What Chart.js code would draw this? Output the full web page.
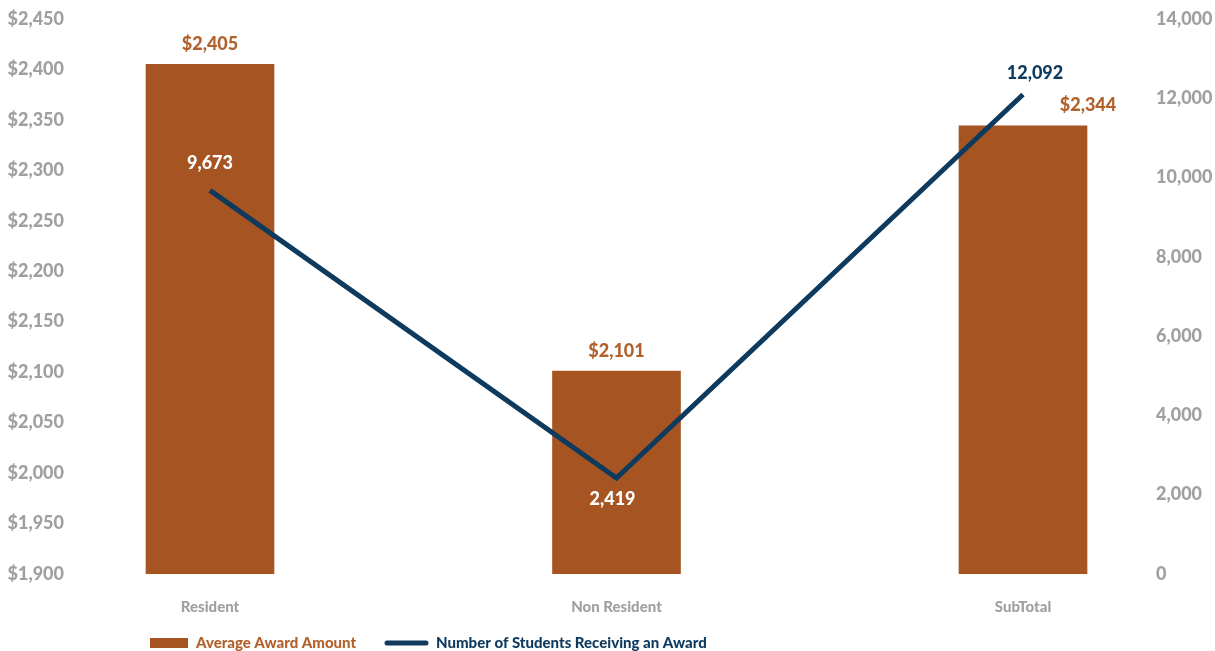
<!DOCTYPE html>
<html>
<head>
<meta charset="utf-8">
<script src="https://cdn.jsdelivr.net/npm/chart.js@4/dist/chart.umd.min.js"></script>
<style>
  html, body { margin: 0; padding: 0; background: #fff; }
  #wrap { width: 1215px; height: 651px; }
</style>
</head>
<body>
<div id="wrap"><canvas id="awardChart"></canvas></div>
<script>
const categories = ['Resident', 'Non Resident', 'SubTotal'];
const avgAward = [2405, 2101, 2344];
const students = [9673, 2419, 12092];
const seriesNames = ['Average Award Amount', 'Number of Students Receiving an Award'];

const barColor = '#A65422';
const barLabelColor = '#B3612C';
const lineColor = '#0E3A5E';
const tickColor = '#A0A0A0';
const fontFamily = 'Lato, "Open Sans", sans-serif';
const heavy = '900';

const money = v => '$' + v.toLocaleString('en-US');
const count = v => v.toLocaleString('en-US');

// label offsets per point (dx, dy from the mark)
const barLabelPos = [[0, -20], [0, -20], [65, -21]];
const lineLabelPos = [[0, -27], [-4, 21], [12, -21]];
const lineLabelColor = ['#fff', '#fff', lineColor];

const labelPlugin = {
  id: 'valueLabels',
  afterDatasetsDraw(chart) {
    const c = chart.ctx;
    c.save();
    c.font = heavy + ' 18px ' + fontFamily;
    c.textAlign = 'center';
    c.textBaseline = 'middle';
    chart.getDatasetMeta(0).data.forEach((bar, i) => {
      c.fillStyle = barLabelColor;
      c.fillText(money(avgAward[i]), bar.x + barLabelPos[i][0], bar.y + barLabelPos[i][1]);
    });
    chart.getDatasetMeta(1).data.forEach((pt, i) => {
      c.fillStyle = lineLabelColor[i];
      c.fillText(count(students[i]), pt.x + lineLabelPos[i][0], pt.y + lineLabelPos[i][1]);
    });
    c.restore();
  }
};

const legendPlugin = {
  id: 'bottomLegend',
  afterDraw(chart) {
    const c = chart.ctx;
    const y = 643;
    c.save();
    c.font = heavy + ' 15px ' + fontFamily;
    c.textBaseline = 'middle';
    c.textAlign = 'left';
    c.fillStyle = barColor;
    c.fillRect(150, y - 5, 38, 10);
    c.fillStyle = barLabelColor;
    c.fillText(seriesNames[0], 196, y);
    c.strokeStyle = lineColor;
    c.lineWidth = 5;
    c.lineCap = 'round';
    c.beginPath();
    c.moveTo(387, y);
    c.lineTo(426, y);
    c.stroke();
    c.fillStyle = lineColor;
    c.fillText(seriesNames[1], 436, y);
    c.restore();
  }
};

const ctx = document.getElementById('awardChart').getContext('2d');
new Chart(ctx, {
  type: 'bar',
  data: {
    datasets: [
      {
        type: 'bar',
        label: seriesNames[0],
        data: avgAward.map((v, i) => ({ x: i, y: v })),
        backgroundColor: barColor,
        barThickness: 128,
        base: 1900,
        yAxisID: 'y',
        order: 1
      },
      {
        type: 'line',
        label: seriesNames[1],
        data: students.map((v, i) => ({ x: i, y: v })),
        borderColor: lineColor,
        borderWidth: 5,
        pointRadius: 0,
        tension: 0,
        yAxisID: 'y1',
        order: 0
      }
    ]
  },
  options: {
    responsive: true,
    maintainAspectRatio: false,
    animation: false,
    layout: { padding: { top: 14, bottom: 0 } },
    plugins: {
      legend: { display: false },
      tooltip: { enabled: false }
    },
    scales: {
      x: {
        type: 'linear',
        min: -0.3247,
        max: 2.2878,
        offset: false,
        bounds: 'ticks',
        grid: { display: false },
        border: { display: false },
        afterBuildTicks: s => { s.ticks = categories.map((_, i) => ({ value: i })); },
        afterFit: s => { s.height = 77; },
        ticks: {
          padding: 16,
          maxRotation: 0,
          color: tickColor,
          font: { family: fontFamily, size: 15, weight: heavy },
          callback: v => categories[v]
        }
      },
      y: {
        position: 'left',
        min: 1900,
        max: 2450,
        grid: { display: false },
        border: { display: false },
        afterFit: s => { s.width = 78; },
        ticks: {
          stepSize: 50,
          padding: 6,
          color: tickColor,
          font: { family: fontFamily, size: 18, weight: heavy },
          callback: v => money(v)
        }
      },
      y1: {
        position: 'right',
        min: 0,
        max: 14000,
        grid: { display: false },
        border: { display: false },
        afterFit: s => { s.width = 75; },
        ticks: {
          stepSize: 2000,
          padding: 8,
          color: tickColor,
          font: { family: fontFamily, size: 18, weight: heavy },
          callback: v => count(v)
        }
      }
    }
  },
  plugins: [labelPlugin, legendPlugin]
});
</script>
</body>
</html>
